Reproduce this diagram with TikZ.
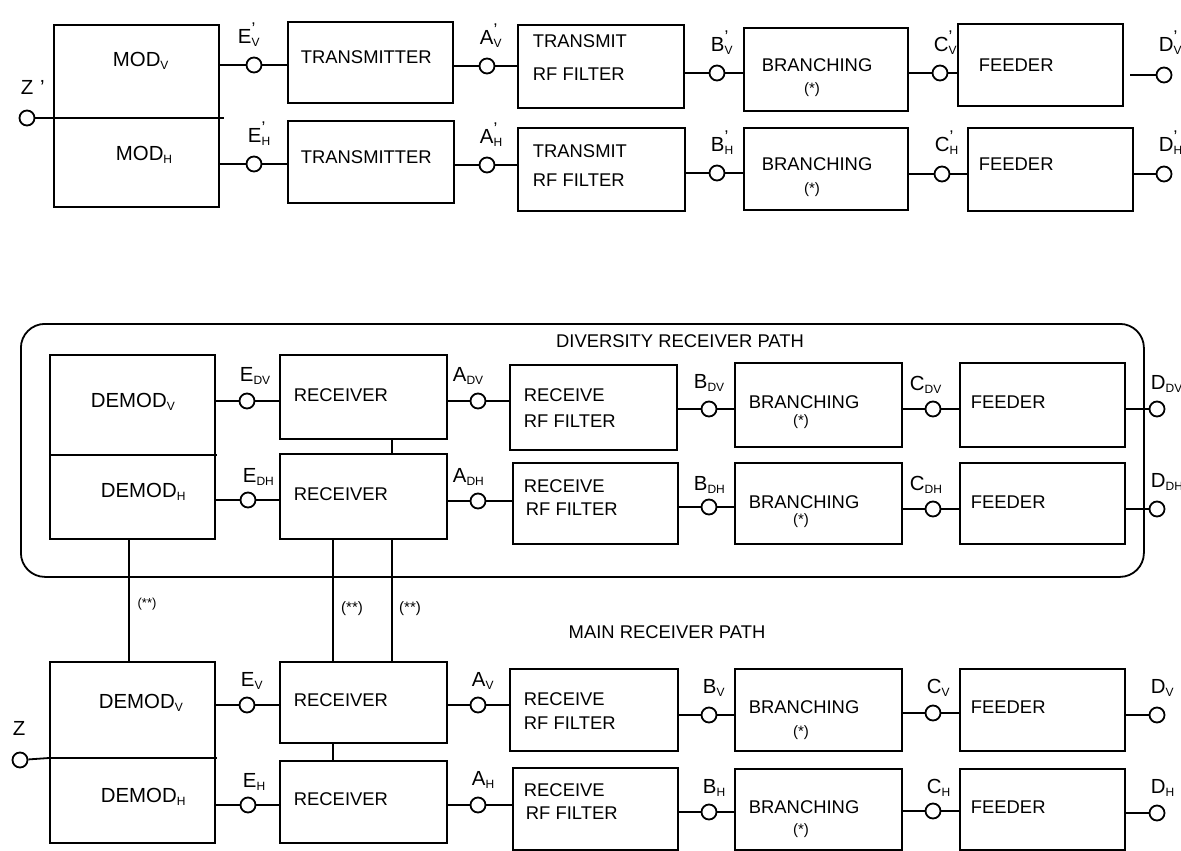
\documentclass[tikz,border=0pt]{standalone}
\usepackage{fontspec}
\setmainfont{Liberation Sans}
\usetikzlibrary{positioning}
\tikzstyle{block}=[draw,fill=white,rectangle,anchor=north west,inner sep=0pt]
\tikzstyle{port}=[draw,fill=white,circle,inner sep=0pt,minimum size=7.5pt]
\tikzstyle{txt}=[anchor=base west,inner sep=0pt,font=\fontsize{9.2}{11}\selectfont]
\tikzstyle{lbl}=[anchor=base west,inner sep=0pt,font=\fontsize{10.2}{12}\selectfont]
\tikzstyle{note}=[inner sep=0pt,font=\fontsize{7.5}{9}\selectfont]
\tikzset{sz/.style 2 args={minimum width=#1*0.5pt,minimum height=#2*0.5pt}}
\newcommand{\sub}[1]{\textsubscript{\fontsize{6}{7}\selectfont #1}}
\newcommand{\prm}[2]{#1\rlap{\raisebox{0.9ex}{\fontsize{8.5}{9}\selectfont '}}\sub{#2}}

\begin{document}
\begin{tikzpicture}[x=0.5pt,y=-0.5pt,line width=0.9pt]
  \useasboundingbox (0,0) rectangle (1181,850);

  % transmitter side
  \node[block, sz={165}{182}] (mod) at (53,24) {};
  \node[block, sz={165}{81}] (txV) at (287,21) {};
  \node[block, sz={166}{82}] (txH) at (287,120) {};
  \node[block, sz={166}{83}] (tfV) at (517,24) {};
  \node[block, sz={167}{83}] (tfH) at (517,127) {};
  \node[block, sz={164}{83}] (brV) at (743,27) {};
  \node[block, sz={164}{82}] (brH) at (743,127) {};
  \node[block, sz={165}{82}] (fdV) at (957,23) {};
  \node[block, sz={165}{83}] (fdH) at (967,127) {};
  \coordinate (modmid) at (53,118);
  \draw (modmid) -- (224,118);

  \node[lbl] at (112,67) {MOD\sub{V}};
  \node[lbl] at (115,161) {MOD\sub{H}};
  \node[txt] at (300,64) {TRANSMITTER};
  \node[txt] at (300,163) {TRANSMITTER};
  \node[txt] at (532,48) {TRANSMIT};
  \node[txt] at (532,81) {RF FILTER};
  \node[txt] at (532,158) {TRANSMIT};
  \node[txt] at (532,187) {RF FILTER};
  \node[txt] at (761,72) {BRANCHING};
  \node[note] at (812,90) {(*)};
  \node[txt] at (761,171) {BRANCHING};
  \node[note] at (812,190) {(*)};
  \node[txt] at (978,72) {FEEDER};
  \node[txt] at (978,171) {FEEDER};

  \node[port] (tz) at (27,118) {};
  \node[port] (teV) at (254,65) {};
  \node[port] (taV) at (487,66) {};
  \node[port] (tbV) at (717,73) {};
  \node[port] (tcV) at (940,73) {};
  \node[port] (tdV) at (1164,75) {};
  \node[port] (teH) at (254,164) {};
  \node[port] (taH) at (487,165) {};
  \node[port] (tbH) at (717,173) {};
  \node[port] (tcH) at (942,174) {};
  \node[port] (tdH) at (1164,174) {};
  \coordinate (tdVin) at (1130,75);

  \node[lbl] at (20,95) {Z\,\,'};
  \node[lbl] at (237,44) {\prm{E}{V}};
  \node[lbl] at (247,143) {\prm{E}{H}};
  \node[lbl] at (479,45) {\prm{A}{V}};
  \node[lbl] at (479,144) {\prm{A}{H}};
  \node[lbl] at (710,52) {\prm{B}{V}};
  \node[lbl] at (710,152) {\prm{B}{H}};
  \node[lbl] at (933,52) {\prm{C}{V}};
  \node[lbl] at (934,152) {\prm{C}{H}};
  \node[lbl] at (1158,52) {\prm{D}{V}};
  \node[lbl] at (1158,152) {\prm{D}{H}};

  \draw (tz) -- (modmid);
  \draw (mod.east |- teV) -- (teV) -- (teV -| txV.west);
  \draw (txV.east |- taV) -- (taV) -- (taV -| tfV.west);
  \draw (tfV.east |- tbV) -- (tbV) -- (tbV -| brV.west);
  \draw (brV.east |- tcV) -- (tcV) -- (tcV -| fdV.west);
  \draw (tdVin) -- (tdV);
  \draw (mod.east |- teH) -- (teH) -- (teH -| txH.west);
  \draw (txH.east |- taH) -- (taH) -- (taH -| tfH.west);
  \draw (tfH.east |- tbH) -- (tbH) -- (tbH -| brH.west);
  \draw (brH.east |- tcH) -- (tcH) -- (tcH -| fdH.west);
  \draw (fdH.east |- tdH) -- (tdH);

  % diversity receiver path
  \node[draw, rounded corners=12pt, anchor=north west, inner sep=0pt, sz={1123}{253}] (div) at (20,323) {};
  \node[txt, anchor=base] at (680,347) {DIVERSITY RECEIVER PATH};
  \node[block, sz={165}{184}] (dmd) at (49,354) {};
  \node[block, sz={167}{84}] (rdV) at (279,354) {};
  \node[block, sz={167}{85}] (rdH) at (279,453) {};
  \node[block, sz={167}{85}] (rfdV) at (509,364) {};
  \node[block, sz={165}{81}] (rfdH) at (512,462) {};
  \node[block, sz={167}{84}] (bdV) at (734,362) {};
  \node[block, sz={167}{81}] (bdH) at (734,462) {};
  \node[block, sz={165}{84}] (fddV) at (959,362) {};
  \node[block, sz={165}{81}] (fddH) at (959,462) {};
  \draw (49,455) -- (217,455);

  \node[lbl] at (90,407) {DEMOD\sub{V}};
  \node[lbl] at (100,497) {DEMOD\sub{H}};
  \node[txt] at (293,401) {RECEIVER};
  \node[txt] at (293,500) {RECEIVER};
  \node[txt] at (523,401) {RECEIVE};
  \node[txt] at (523,427) {RF FILTER};
  \node[txt] at (523,492) {RECEIVE};
  \node[txt] at (525,515) {RF FILTER};
  \node[txt] at (748,408) {BRANCHING};
  \node[note] at (801,422) {(*)};
  \node[txt] at (748,508) {BRANCHING};
  \node[note] at (801,521) {(*)};
  \node[txt] at (970,408) {FEEDER};
  \node[txt] at (970,508) {FEEDER};

  \node[port] (deV) at (247,401) {};
  \node[port] (daV) at (478,401) {};
  \node[port] (dbV) at (709,409) {};
  \node[port] (dcV) at (933,409) {};
  \node[port] (ddV) at (1157,409) {};
  \node[port] (deH) at (248,500) {};
  \node[port] (daH) at (478,501) {};
  \node[port] (dbH) at (709,507) {};
  \node[port] (dcH) at (933,509) {};
  \node[port] (ddH) at (1157,509) {};

  \node[lbl] at (239,381) {E\sub{DV}};
  \node[lbl] at (242,482) {E\sub{DH}};
  \node[lbl] at (452,381) {A\sub{DV}};
  \node[lbl] at (452,482) {A\sub{DH}};
  \node[lbl] at (693,388) {B\sub{DV}};
  \node[lbl] at (693,490) {B\sub{DH}};
  \node[lbl] at (909,390) {C\sub{DV}};
  \node[lbl] at (909,490) {C\sub{DH}};
  \node[lbl] at (1150,389) {D\sub{DV}};
  \node[lbl] at (1150,487) {D\sub{DH}};

  \draw (dmd.east |- deV) -- (deV) -- (deV -| rdV.west);
  \draw (rdV.east |- daV) -- (daV) -- (daV -| rfdV.west);
  \draw (rfdV.east |- dbV) -- (dbV) -- (dbV -| bdV.west);
  \draw (bdV.east |- dcV) -- (dcV) -- (dcV -| fddV.west);
  \draw (fddV.east |- ddV) -- (ddV);
  \draw (dmd.east |- deH) -- (deH) -- (deH -| rdH.west);
  \draw (rdH.east |- daH) -- (daH) -- (daH -| rfdH.west);
  \draw (rfdH.east |- dbH) -- (dbH) -- (dbH -| bdH.west);
  \draw (bdH.east |- dcH) -- (dcH) -- (dcH -| fddH.west);
  \draw (fddH.east |- ddH) -- (ddH);
  \draw ([xshift=14.25pt]rdV.south) -- ([xshift=14.25pt]rdH.north);

  % main receiver path
  \node[txt, anchor=base] at (667,638) {MAIN RECEIVER PATH};
  \node[block, sz={165}{181}] (dmm) at (49,661) {};
  \node[block, sz={167}{81}] (rmV) at (279,661) {};
  \node[block, sz={167}{82}] (rmH) at (279,760) {};
  \node[block, sz={168}{82}] (rfmV) at (509,668) {};
  \node[block, sz={165}{82}] (rfmH) at (512,767) {};
  \node[block, sz={167}{82}] (bmV) at (734,668) {};
  \node[block, sz={167}{81}] (bmH) at (734,768) {};
  \node[block, sz={165}{82}] (fdmV) at (959,668) {};
  \node[block, sz={165}{81}] (fdmH) at (959,768) {};
  \coordinate (dmmmid) at (49,758);
  \draw (dmmmid) -- (217,758);

  \node[lbl] at (98,708) {DEMOD\sub{V}};
  \node[lbl] at (100,802) {DEMOD\sub{H}};
  \node[txt] at (293,706) {RECEIVER};
  \node[txt] at (293,805) {RECEIVER};
  \node[txt] at (523,705) {RECEIVE};
  \node[txt] at (523,729) {RF FILTER};
  \node[txt] at (523,796) {RECEIVE};
  \node[txt] at (525,819) {RF FILTER};
  \node[txt] at (748,713) {BRANCHING};
  \node[note] at (801,733) {(*)};
  \node[txt] at (748,813) {BRANCHING};
  \node[note] at (801,831) {(*)};
  \node[txt] at (970,713) {FEEDER};
  \node[txt] at (970,813) {FEEDER};

  \node[port] (mz) at (20,760) {};
  \node[port] (meV) at (247,705) {};
  \node[port] (maV) at (478,705) {};
  \node[port] (mbV) at (709,715) {};
  \node[port] (mcV) at (933,713) {};
  \node[port] (mdV) at (1157,715) {};
  \node[port] (meH) at (248,805) {};
  \node[port] (maH) at (478,805) {};
  \node[port] (mbH) at (709,812) {};
  \node[port] (mcH) at (933,811) {};
  \node[port] (mdH) at (1157,813) {};

  \node[lbl] at (12,735) {Z};
  \node[lbl] at (240,686) {E\sub{V}};
  \node[lbl] at (242,787) {E\sub{H}};
  \node[lbl] at (471,686) {A\sub{V}};
  \node[lbl] at (471,785) {A\sub{H}};
  \node[lbl] at (702,693) {B\sub{V}};
  \node[lbl] at (702,793) {B\sub{H}};
  \node[lbl] at (926,693) {C\sub{V}};
  \node[lbl] at (926,793) {C\sub{H}};
  \node[lbl] at (1150,693) {D\sub{V}};
  \node[lbl] at (1150,793) {D\sub{H}};

  \draw (mz) -- (dmmmid);
  \draw (dmm.east |- meV) -- (meV) -- (meV -| rmV.west);
  \draw (rmV.east |- maV) -- (maV) -- (maV -| rfmV.west);
  \draw (rfmV.east |- mbV) -- (mbV) -- (mbV -| bmV.west);
  \draw (bmV.east |- mcV) -- (mcV) -- (mcV -| fdmV.west);
  \draw (fdmV.east |- mdV) -- (mdV);
  \draw (dmm.east |- meH) -- (meH) -- (meH -| rmH.west);
  \draw (rmH.east |- maH) -- (maH) -- (maH -| rfmH.west);
  \draw (rfmH.east |- mbH) -- (mbH) -- (mbH -| bmH.west);
  \draw (bmH.east |- mcH) -- (mcH) -- (mcH -| fdmH.west);
  \draw (fdmH.east |- mdH) -- (mdH);
  \draw ([xshift=-15.25pt]rmV.south) -- ([xshift=-15.25pt]rmH.north);

  % links between the two paths
  \draw ([xshift=-1.75pt]dmd.south) -- ([xshift=-1.75pt]dmm.north);
  \draw ([xshift=-15.25pt]rdH.south) -- ([xshift=-15.25pt]rmV.north);
  \draw ([xshift=14.25pt]rdH.south) -- ([xshift=14.25pt]rmV.north);
  \node[note, font=\fontsize{6.5}{8}\selectfont] at (147,604) {(**)};
  \node[note] at (352,609) {(**)};
  \node[note] at (410,609) {(**)};
\end{tikzpicture}
\end{document}
